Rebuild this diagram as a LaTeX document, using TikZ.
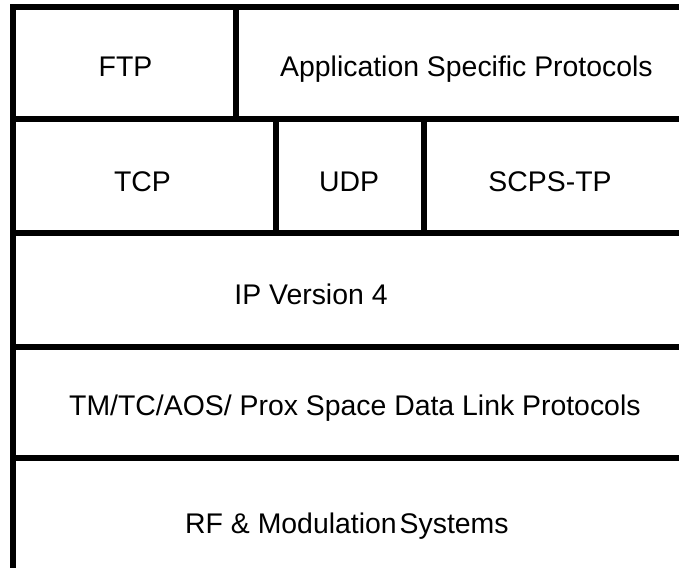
\documentclass[tikz,border=0pt]{standalone}
\usepackage{fontspec}
\setmainfont{Liberation Sans}
\begin{document}
\begin{tikzpicture}[x=1pt,y=-1pt,
  rule/.style={line width=6pt,line join=miter},
  layer/.style={inner sep=0pt,anchor=base,font=\fontsize{28.4}{34}\selectfont},
  layerw/.style={layer,anchor=base west}]
  \useasboundingbox (0,0) rectangle (679,567);
  % outer frame: top edge and left edge only
  \draw[rule] (690,7.5) -- (12.5,7.5) -- (12.5,580);
  % horizontal separators between the layers
  \foreach \y in {118.5,233,347,458}
    \draw[rule] (12.5,\y) -- (690,\y);
  % vertical separators inside the upper layers
  \draw[rule] (236,7.5) -- (236,118.5);
  \draw[rule] (276,118.5) -- (276,233);
  \draw[rule] (424,118.5) -- (424,233);
  % layer labels
  \node[layer]  (ftp)  at (125.5,77) {FTP};
  \node[layerw] (asp)  at (280,77)   {Application Specific Protocols};
  \node[layer]  (tcp)  at (142.5,191) {TCP};
  \node[layer]  (udp)  at (349,191)  {UDP};
  \node[layer]  (scps) at (550,191)  {SCPS-TP};
  \node[layer]  (ip)   at (311,304)  {IP Version 4};
  \node[layerw] (link) at (69,415)   {TM/TC/AOS/ Prox Space Data Link Protocols};
  \node[layerw] (rf)   at (185,533)  {RF \& Modulation\kern3pt Systems};
\end{tikzpicture}
\end{document}
